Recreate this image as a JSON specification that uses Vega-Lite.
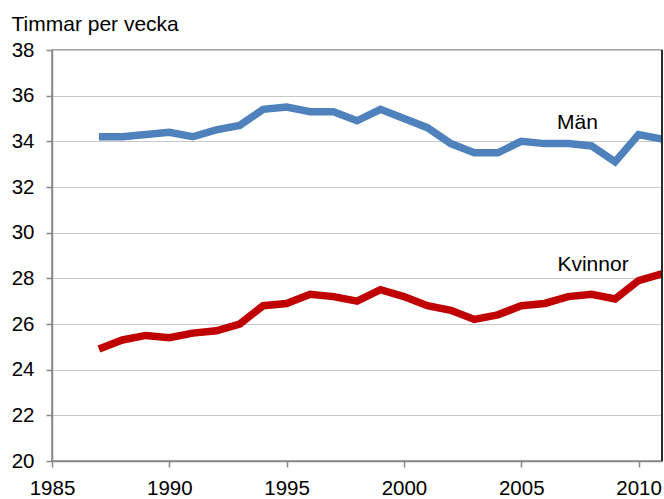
{
  "$schema": "https://vega.github.io/schema/vega-lite/v6.json",
  "width": 610,
  "height": 411,
  "autosize": {"type": "none"},
  "padding": {"left": 52, "top": 50, "right": 2, "bottom": 38},
  "background": "white",
  "config": {
    "font": "Liberation Sans",
    "view": {"stroke": "#888888", "strokeWidth": 1.5},
    "axis": {
      "labelFont": "Liberation Sans",
      "labelFontSize": 20.5,
      "labelColor": "#000000",
      "domainColor": "#888888",
      "domainWidth": 1.5,
      "tickColor": "#888888",
      "tickWidth": 1.5,
      "tickSize": 6,
      "gridColor": "#c8c8c8",
      "gridWidth": 1
    }
  },
  "datasets": {
    "series": [
      {"year": 1987, "sex": "Män", "hours": 34.2},
      {"year": 1988, "sex": "Män", "hours": 34.2},
      {"year": 1989, "sex": "Män", "hours": 34.3},
      {"year": 1990, "sex": "Män", "hours": 34.4},
      {"year": 1991, "sex": "Män", "hours": 34.2},
      {"year": 1992, "sex": "Män", "hours": 34.5},
      {"year": 1993, "sex": "Män", "hours": 34.7},
      {"year": 1994, "sex": "Män", "hours": 35.4},
      {"year": 1995, "sex": "Män", "hours": 35.5},
      {"year": 1996, "sex": "Män", "hours": 35.3},
      {"year": 1997, "sex": "Män", "hours": 35.3},
      {"year": 1998, "sex": "Män", "hours": 34.9},
      {"year": 1999, "sex": "Män", "hours": 35.4},
      {"year": 2000, "sex": "Män", "hours": 35.0},
      {"year": 2001, "sex": "Män", "hours": 34.6},
      {"year": 2002, "sex": "Män", "hours": 33.9},
      {"year": 2003, "sex": "Män", "hours": 33.5},
      {"year": 2004, "sex": "Män", "hours": 33.5},
      {"year": 2005, "sex": "Män", "hours": 34.0},
      {"year": 2006, "sex": "Män", "hours": 33.9},
      {"year": 2007, "sex": "Män", "hours": 33.9},
      {"year": 2008, "sex": "Män", "hours": 33.8},
      {"year": 2009, "sex": "Män", "hours": 33.1},
      {"year": 2010, "sex": "Män", "hours": 34.3},
      {"year": 2011, "sex": "Män", "hours": 34.1},
      {"year": 1987, "sex": "Kvinnor", "hours": 24.9},
      {"year": 1988, "sex": "Kvinnor", "hours": 25.3},
      {"year": 1989, "sex": "Kvinnor", "hours": 25.5},
      {"year": 1990, "sex": "Kvinnor", "hours": 25.4},
      {"year": 1991, "sex": "Kvinnor", "hours": 25.6},
      {"year": 1992, "sex": "Kvinnor", "hours": 25.7},
      {"year": 1993, "sex": "Kvinnor", "hours": 26.0},
      {"year": 1994, "sex": "Kvinnor", "hours": 26.8},
      {"year": 1995, "sex": "Kvinnor", "hours": 26.9},
      {"year": 1996, "sex": "Kvinnor", "hours": 27.3},
      {"year": 1997, "sex": "Kvinnor", "hours": 27.2},
      {"year": 1998, "sex": "Kvinnor", "hours": 27.0},
      {"year": 1999, "sex": "Kvinnor", "hours": 27.5},
      {"year": 2000, "sex": "Kvinnor", "hours": 27.2},
      {"year": 2001, "sex": "Kvinnor", "hours": 26.8},
      {"year": 2002, "sex": "Kvinnor", "hours": 26.6},
      {"year": 2003, "sex": "Kvinnor", "hours": 26.2},
      {"year": 2004, "sex": "Kvinnor", "hours": 26.4},
      {"year": 2005, "sex": "Kvinnor", "hours": 26.8},
      {"year": 2006, "sex": "Kvinnor", "hours": 26.9},
      {"year": 2007, "sex": "Kvinnor", "hours": 27.2},
      {"year": 2008, "sex": "Kvinnor", "hours": 27.3},
      {"year": 2009, "sex": "Kvinnor", "hours": 27.1},
      {"year": 2010, "sex": "Kvinnor", "hours": 27.9},
      {"year": 2011, "sex": "Kvinnor", "hours": 28.2}
    ],
    "labels": [
      {"year": 2007.4, "hours": 34.82, "label": "Män"},
      {"year": 2008.06, "hours": 28.6, "label": "Kvinnor"}
    ],
    "edge": [{"year": 2011}]
  },
  "layer": [
    {
      "data": {"name": "series"},
      "mark": {"type": "line", "strokeWidth": 7.5, "strokeJoin": "miter", "strokeCap": "butt", "clip": true},
      "encoding": {
        "x": {
          "field": "year", "type": "quantitative",
          "scale": {"domain": [1985, 2011], "nice": false, "zero": false},
          "axis": {"values": [1985, 1990, 1995, 2000, 2005, 2010], "format": "d", "title": null, "grid": false, "labelPadding": 11, "labelFlush": false}
        },
        "y": {
          "field": "hours", "type": "quantitative",
          "scale": {"domain": [20, 38], "nice": false, "zero": false},
          "axis": {
            "values": [20, 22, 24, 26, 28, 30, 32, 34, 36, 38],
            "title": "Timmar per vecka",
            "titleAngle": 0, "titleAlign": "left", "titleBaseline": "alphabetic",
            "titleX": -41, "titleY": -20,
            "titleFont": "Liberation Sans", "titleFontSize": 21, "titleFontWeight": "normal", "titleColor": "#000000",
            "labelPadding": 12, "grid": true
          }
        },
        "color": {
          "field": "sex", "type": "nominal",
          "scale": {"domain": ["Män", "Kvinnor"], "range": ["#4f81bd", "#c00000"]},
          "legend": null
        }
      }
    },
    {
      "data": {"name": "labels"},
      "mark": {"type": "text", "fontSize": 21, "font": "Liberation Sans", "align": "center", "baseline": "middle", "color": "#000000"},
      "encoding": {
        "x": {"field": "year", "type": "quantitative"},
        "y": {"field": "hours", "type": "quantitative"},
        "text": {"field": "label"}
      }
    },
    {
      "data": {"name": "edge"},
      "mark": {"type": "rule", "color": "#000000", "strokeWidth": 1.5},
      "encoding": {
        "x": {"field": "year", "type": "quantitative"}
      }
    }
  ]
}
